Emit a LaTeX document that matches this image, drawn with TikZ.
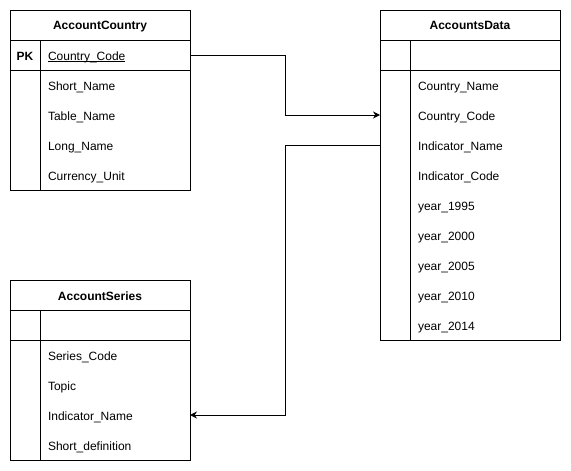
\documentclass[tikz,border=0pt]{standalone}
\usepackage{fontspec}
\setmainfont{Liberation Sans}
\usetikzlibrary{positioning,arrows.meta}

\newcommand{\keyname}[1]{\setbox0\hbox{#1}\rlap{\rule[-1.4pt]{\wd0}{0.8pt}}\box0}

\begin{document}
\begin{tikzpicture}
                [
                    x=1pt,
                    y=-1pt,
                    line width=1pt,
                    outer sep=0pt,
                    font=\fontsize{12}{14}\selectfont,
                    table title/.style={draw, minimum width=180pt, minimum height=30pt,
                        inner sep=0pt, text height=10pt, text depth=0pt,
                        font=\fontsize{12}{14}\selectfont\bfseries},
                    key cell/.style={draw, minimum width=30pt, minimum height=30pt,
                        inner sep=0pt, text height=10.5pt, text depth=0pt,
                        font=\fontsize{12}{14}\selectfont\bfseries},
                    name cell/.style={draw, minimum width=150pt, minimum height=30pt,
                        inner xsep=8pt, inner ysep=0pt, text width=134pt, align=left,
                        text height=11pt, text depth=0pt},
                    field/.style={minimum width=150pt, minimum height=30pt,
                        inner xsep=8pt, inner ysep=0pt, text width=134pt, align=left,
                        text height=11pt, text depth=0pt},
                    relation/.style={-{Stealth[length=7pt,width=7pt]}, line width=1pt}
                ]
                \useasboundingbox (0,0) rectangle (571,471);

                % AccountCountry
                \node (country) [table title] at (100,25) {AccountCountry};
                \node (country key)
                    [key cell, below right=0pt and 0pt of country.south west]
                    {PK};
                \node (country code)
                    [name cell, right=0pt of country key]
                    {\keyname{Country\_Code}};
                \node (country f1) [field, below=0pt of country code] {Short\_Name};
                \node (country f2) [field, below=0pt of country f1]   {Table\_Name};
                \node (country f3) [field, below=0pt of country f2]   {Long\_Name};
                \node (country f4) [field, below=0pt of country f3]   {Currency\_Unit};
                \draw (country key.south west) rectangle (country f4.south east);
                \draw (country key.south east) -- (country key.south east |- country f4.south);

                % AccountsData
                \node (data) [table title] at (470,25) {AccountsData};
                \node (data key)
                    [key cell, below right=0pt and 0pt of data.south west]
                    {};
                \node (data head)
                    [name cell, right=0pt of data key]
                    {};
                \node (data f1) [field, below=0pt of data head] {Country\_Name};
                \node (data f2) [field, below=0pt of data f1]   {Country\_Code};
                \node (data f3) [field, below=0pt of data f2]   {Indicator\_Name};
                \node (data f4) [field, below=0pt of data f3]   {Indicator\_Code};
                \node (data f5) [field, below=0pt of data f4]   {year\_1995};
                \node (data f6) [field, below=0pt of data f5]   {year\_2000};
                \node (data f7) [field, below=0pt of data f6]   {year\_2005};
                \node (data f8) [field, below=0pt of data f7]   {year\_2010};
                \node (data f9) [field, below=0pt of data f8]   {year\_2014};
                \draw (data key.south west) rectangle (data f9.south east);
                \draw (data key.south east) -- (data key.south east |- data f9.south);

                % AccountSeries
                \node (series) [table title] at (100,295) {AccountSeries};
                \node (series key)
                    [key cell, below right=0pt and 0pt of series.south west]
                    {};
                \node (series head)
                    [name cell, right=0pt of series key]
                    {};
                \node (series f1) [field, below=0pt of series head] {Series\_Code};
                \node (series f2) [field, below=0pt of series f1]   {Topic};
                \node (series f3) [field, below=0pt of series f2]   {Indicator\_Name};
                \node (series f4) [field, below=0pt of series f3]   {Short\_definition};
                \draw (series key.south west) rectangle (series f4.south east);
                \draw (series key.south east) -- (series key.south east |- series f4.south);

                % relations
                \coordinate (bend x) at (285,0);
                \draw [relation]
                    (country code.east) -| (bend x |- data f2.west) -- (data f2.west -| data.west);
                \draw [relation]
                    (data f3.west -| data.west) -| (bend x |- series f3.east) -- (series f3.east);

            \end{tikzpicture}
\end{document}
